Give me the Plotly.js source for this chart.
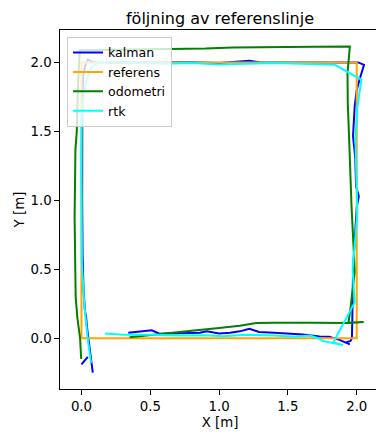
<!DOCTYPE html>
<html>
<head>
<meta charset="utf-8">
<script src="https://cdn.plot.ly/plotly-3.0.1.min.js"></script>
<style>
html, body { margin: 0; padding: 0; overflow: hidden; background: #fff; }
#chart { width: 384px; height: 434px; }
</style>
</head>
<body>
<div id="chart"></div>
<script>
// kalman
var kalmanX = [0.0, 0.046, null,
  0.34, 0.42, 0.51, 0.57, 0.7, 0.86, 0.91, 1.0, 1.08, 1.15, 1.22, 1.29, 1.4, 1.51, 1.61, 1.73, 1.8, 1.87, 1.95, 1.92, 1.955,
  1.965, 1.968, 1.97, 1.973, 1.98, 1.99, 2.0, 2.015, 1.995, 1.99, 1.973, 1.985, 2.0, 2.02, 2.053, 2.01,
  1.8, 1.6, 1.4, 1.3, 1.22, 1.15, 1.0, 0.8, 0.6, 0.4, 0.2, 0.08, 0.046, 0.025, 0.012, 0.006, 0.004, 0.005, 0.008, 0.015, 0.025, 0.034, 0.04, 0.055, 0.07, 0.082];
var kalmanY = [-0.19, -0.135, null,
  0.04, 0.05, 0.058, 0.032, 0.035, 0.04, 0.05, 0.034, 0.04, 0.05, 0.068, 0.046, 0.04, 0.032, 0.027, 0.012, 0.01, -0.01, -0.045, -0.03, -0.02,
  0.0, 0.15, 0.3, 0.474, 0.62, 0.8, 0.95, 1.03, 1.1, 1.3, 1.464, 1.68, 1.8, 1.875, 1.983, 2.0,
  2.0, 2.002, 2.005, 2.0, 2.012, 2.005, 1.995, 2.002, 2.0, 2.0, 2.0, 2.005, 2.02, 1.97, 1.9, 1.7, 1.4, 1.0, 0.6, 0.35, 0.2, 0.15, 0.08, -0.05, -0.18, -0.25];

// referens
var refX = [0, 2, 2, 0, 0];
var refY = [0, 0, 2, 2, 0];

// odometri
var odoX = [0.35, 0.55, 0.8, 1.0, 1.15, 1.27, 1.4, 1.7, 1.94, 2.05, 1.94,
  1.956, 1.985, 1.98, 1.962, 1.945, 1.935, 1.933, 1.95,
  1.7, 1.4, 1.1, 0.9, 0.6, 0.3, -0.012,
  -0.025, -0.034, -0.044, -0.05, -0.045, -0.042, -0.03, -0.01, -0.002];
var odoY = [0.007, 0.03, 0.055, 0.075, 0.09, 0.11, 0.113, 0.113, 0.11, 0.117, 0.112,
  0.23, 0.48, 0.6, 0.96, 1.44, 1.7, 1.923, 2.116,
  2.114, 2.112, 2.108, 2.1, 2.096, 2.092, 2.088,
  1.85, 1.5, 1.37, 0.88, 0.5, 0.3, 0.15, 0.0, -0.15];

// rtk
var rtkX = [0.17, 0.3, 0.5, 0.7, 0.9, 1.03, 1.2, 1.4, 1.55, 1.66, 1.72, 1.755, 1.9, 1.83,
  1.985, 1.97, 2.005, 1.99, 2.005, 2.034, 1.84,
  1.6, 1.4, 1.2, 1.0, 0.8, 0.6, 0.4, 0.2, 0.12, 0.07, 0.035, 0.015, 0.0, -0.002, 0.0, 0.003, 0.02, 0.045, 0.07];
var rtkY = [0.035, 0.025, 0.025, 0.02, 0.022, 0.015, 0.025, 0.02, 0.01, 0.02, 0.0, -0.02, -0.05, -0.03,
  0.26, 0.5, 0.91, 1.44, 1.68, 1.875, 1.983,
  1.99, 1.995, 1.99, 1.985, 1.995, 1.99, 1.995, 2.0, 2.005, 1.96, 1.87, 1.75, 1.6, 1.2, 0.8, 0.55, 0.25, 0.0, -0.18];

var seriesNames = ['kalman', 'referens', 'odometri', 'rtk'];
var seriesColors = ['#0000ff', '#ffa500', '#008000', '#00ffff'];
var xs = [kalmanX, refX, odoX, rtkX];
var ys = [kalmanY, refY, odoY, rtkY];
var tickVals = [0, 0.5, 1, 1.5, 2];
var tickText = ['0.0', '0.5', '1.0', '1.5', '2.0'];

var traces = seriesNames.map(function (n, i) {
  return {
    type: 'scatter', mode: 'lines', name: n,
    x: xs[i], y: ys[i],
    line: { color: seriesColors[i], width: 2 },
    connectgaps: false
  };
});

var font = { family: 'DejaVu Sans, sans-serif', size: 13.33, color: '#000' };

var layout = {
  width: 384, height: 434,
  margin: { l: 60, r: 4, t: 30, b: 45 },
  paper_bgcolor: '#fff', plot_bgcolor: '#fff',
  font: font,
  showlegend: true,
  title: {
    text: 'följning av referenslinje',
    font: { family: 'DejaVu Sans, sans-serif', size: 16, color: '#000' },
    x: 0.5, xref: 'paper', xanchor: 'center',
    y: 1, yref: 'paper', yanchor: 'bottom', pad: { b: 6 }
  },
  xaxis: {
    range: [-0.156, 2.169],
    tickvals: tickVals, ticktext: tickText,
    ticks: 'outside', ticklen: 4.7, tickwidth: 1, tickcolor: '#000',
    showline: true, linecolor: '#000', linewidth: 1, mirror: true,
    showgrid: false, zeroline: false,
    tickfont: font,
    title: { text: 'X [m]', font: font, standoff: 4 }
  },
  yaxis: {
    range: [-0.368, 2.235],
    tickvals: tickVals, ticktext: tickText,
    ticks: 'outside', ticklen: 4.7, tickwidth: 1, tickcolor: '#000',
    showline: true, linecolor: '#000', linewidth: 1, mirror: true,
    showgrid: false, zeroline: false,
    tickfont: font,
    title: { text: 'Y [m]', font: font, standoff: 2 }
  },
  legend: {
    x: 0.022, y: 0.981, xanchor: 'left', yanchor: 'top',
    bgcolor: 'rgba(255,255,255,0.8)', bordercolor: '#cccccc', borderwidth: 1,
    font: { family: 'DejaVu Sans, sans-serif', size: 12.6, color: '#000' },
    itemwidth: 30, tracegroupgap: 0
  }
};

Plotly.newPlot('chart', traces, layout, { displayModeBar: false, staticPlot: true });
</script>
</body>
</html>
